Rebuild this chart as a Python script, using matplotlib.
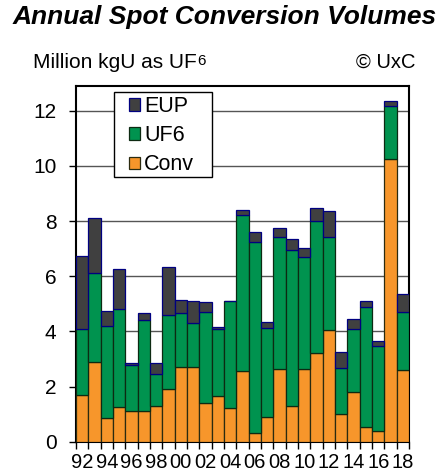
import numpy as np
import matplotlib
matplotlib.use("Agg")
import matplotlib.pyplot as plt
from matplotlib.patches import Rectangle

plt.rcParams['font.family'] = ['Liberation Sans', 'DejaVu Sans']

# dados (milhoes de kgU como UF6)
anos = list(range(1992, 2019))
conv = [1.70, 2.90, 0.85, 1.27, 1.12, 1.12, 1.29, 1.90, 2.72, 2.72, 1.41, 1.66, 1.22, 2.57,
        0.33, 0.88, 2.62, 1.29, 2.62, 3.20, 4.05, 0.99, 1.81, 0.52, 0.40, 10.24, 2.60]
uf6 = [2.37, 3.20, 3.36, 3.53, 1.65, 3.29, 1.15, 2.69, 1.93, 1.59, 3.30, 2.44, 3.87, 5.66,
       6.93, 3.24, 4.79, 5.68, 4.09, 4.81, 3.36, 1.69, 2.27, 4.37, 3.06, 1.92, 2.10]
eup = [2.66, 2.03, 0.54, 1.45, 0.09, 0.25, 0.40, 1.75, 0.49, 0.78, 0.34, 0.07, 0.00, 0.19,
       0.34, 0.22, 0.34, 0.39, 0.31, 0.46, 0.96, 0.58, 0.38, 0.21, 0.19, 0.18, 0.64]
rotulos_x = [f"{a % 100:02d}" for a in anos[::2]]

fig = plt.figure(figsize=(4.43, 4.76), dpi=100)
ax = fig.add_axes([0.1716, 0.0721, 0.7517, 0.7472])

x = np.arange(len(anos))
conv = np.array(conv)
uf6 = np.array(uf6)
eup = np.array(eup)

ax.bar(x, conv, width=1.0, color='#F7962B', edgecolor='#2b2b10', linewidth=0.9,
       label='Conv', zorder=3)
ax.bar(x, uf6, width=1.0, bottom=conv, color='#00934F', edgecolor='#0d2a12',
       linewidth=0.9, label='UF6', zorder=3)
ax.bar(x, eup, width=1.0, bottom=conv + uf6, color='#404040', edgecolor='#000080',
       linewidth=0.9, label='EUP', zorder=3)

ax.set_xlim(-0.5, len(anos) - 0.5)
ax.set_ylim(0, 12.9)
ax.set_yticks(range(0, 13, 2))
ax.yaxis.grid(True, color='#555555', linewidth=1.0)
ax.set_axisbelow(True)

# ticks nas divisas das barras, rotulos nos anos pares
ax.set_xticks(np.arange(-0.5, len(anos), 1))
ax.set_xticklabels([])
ax.set_xticks(x[::2], minor=True)
ax.set_xticklabels(rotulos_x, minor=True)
ax.tick_params(axis='x', which='major', length=5, width=1, direction='out')
ax.tick_params(axis='x', which='minor', length=0, pad=8, labelsize=14.5)
ax.tick_params(axis='y', length=5, width=1, direction='out', pad=9, labelsize=15)

for s in ax.spines.values():
    s.set_linewidth(1.5)
    s.set_color('black')

# caixa da legenda
ax.add_patch(Rectangle((0.115, 0.744), 0.2925, 0.240, transform=ax.transAxes,
                       facecolor='white', edgecolor='black', linewidth=1.0, zorder=4))
h, l = ax.get_legend_handles_labels()
leg = ax.legend(h[::-1], l[::-1], loc='upper left', bbox_to_anchor=(0.158, 0.971),
                frameon=False, fontsize=15.5, handlelength=0.52, handleheight=0.52,
                handletextpad=0.2, labelspacing=0.375, borderpad=0, borderaxespad=0)
leg.set_zorder(5)

fig.text(0.507, 1 - 17 / 476, 'Annual Spot Conversion Volumes', ha='center', va='center',
         fontsize=19, fontweight='bold', fontstyle='italic')
t = fig.text(33 / 443, 1 - 62 / 476, 'Million kgU as UF', ha='left', va='center', fontsize=15)
ax.annotate('6', xy=(1, 0.18), xycoords=t, ha='left', va='bottom', fontsize=11)
fig.text(415 / 443, 1 - 62 / 476, '© UxC', ha='right', va='center', fontsize=14.5)

fig.savefig('out.png', dpi=100)
